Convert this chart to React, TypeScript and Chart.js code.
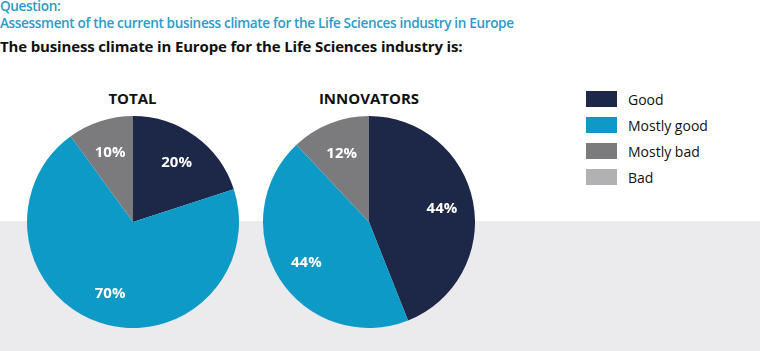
import React, { useEffect, useRef } from "react";
import { Chart, registerables } from "chart.js";

Chart.register(...registerables);

const categories = ["Good", "Mostly good", "Mostly bad", "Bad"];
const totalValues = [20, 70, 10, 0];
const innovatorValues = [44, 44, 12, 0];
const chartTitles = ["TOTAL", "INNOVATORS"];
const colors = ["#1d2748", "#0e9ac6", "#7b7b7d", "#b1b1b3"];

const questionLabel = "Question:";
const questionText = "Assessment of the current business climate for the Life Sciences industry in Europe";
const subtitle = "The business climate in Europe for the Life Sciences industry is:";

const FONT = "'Open Sans', 'Noto Sans', sans-serif";

const pctLabels = {
  id: "pctLabels",
  afterDatasetsDraw(chart: any) {
    const ctx = chart.ctx;
    const meta = chart.getDatasetMeta(0);
    const data = chart.data.datasets[0].data as number[];
    ctx.save();
    ctx.fillStyle = "#ffffff";
    ctx.font = `bold 15px ${FONT}`;
    ctx.textAlign = "center";
    ctx.textBaseline = "middle";
    meta.data.forEach((arc: any, i: number) => {
      const v = data[i];
      if (!v) return;
      const mid = (arc.startAngle + arc.endAngle) / 2;
      const r = arc.outerRadius * 0.7;
      ctx.fillText(`${v}%`, arc.x + Math.cos(mid) * r, arc.y + Math.sin(mid) * r + 1);
    });
    ctx.restore();
  },
};

function PieCanvas({ values, left }: { values: number[]; left: number }) {
  const ref = useRef<HTMLCanvasElement | null>(null);
  useEffect(() => {
    if (!ref.current) return;
    const chart = new Chart(ref.current, {
      type: "pie",
      data: {
        labels: categories,
        datasets: [
          {
            data: values,
            backgroundColor: colors,
            borderWidth: 0,
          },
        ],
      },
      options: {
        responsive: false,
        animation: false,
        layout: { padding: 0 },
        plugins: {
          legend: { display: false },
          tooltip: { enabled: false },
          title: { display: false },
        },
      },
      plugins: [pctLabels],
    });
    return () => chart.destroy();
  }, [values]);
  return (
    <canvas
      ref={ref}
      width={212}
      height={212}
      style={{ position: "absolute", left, top: 116, width: 212, height: 212 }}
    />
  );
}

export default function App() {
  useEffect(() => {
    document.body.style.margin = "0";
  }, []);
  const centers = [132.5, 369];
  return (
    <div
      style={{
        position: "fixed",
        left: 0,
        top: 0,
        width: 760,
        height: 351,
        background: "#ffffff",
        overflow: "hidden",
        fontFamily: FONT,
      }}
    >
      <div
        style={{
          position: "absolute",
          left: 0,
          top: 221,
          width: 760,
          height: 130,
          background: "#ebeaec",
        }}
      />
      <div
        style={{
          position: "absolute",
          left: 0,
          top: -3,
          color: "#2a9cc8",
          fontSize: 15,
          fontWeight: 600,
          lineHeight: "16.5px",
          letterSpacing: "-0.4px",
          whiteSpace: "nowrap",
          transform: "scaleX(0.905)",
          transformOrigin: "0 0",
        }}
      >
        <div>{questionLabel}</div>
        <div>{questionText}</div>
      </div>
      <div
        style={{
          position: "absolute",
          left: 0,
          top: 37,
          color: "#111111",
          fontSize: 15,
          fontWeight: 700,
          lineHeight: "19px",
          letterSpacing: "-0.15px",
          whiteSpace: "nowrap",
        }}
      >
        {subtitle}
      </div>
      {chartTitles.map((t, i) => (
        <div
          key={t}
          style={{
            position: "absolute",
            left: centers[i] - 80,
            width: 160,
            top: 89,
            textAlign: "center",
            fontSize: 15,
            fontWeight: 700,
            lineHeight: "19px",
            color: "#111111",
          }}
        >
          {t}
        </div>
      ))}
      <PieCanvas values={totalValues} left={26.5} />
      <PieCanvas values={innovatorValues} left={263} />
      {categories.map((c, i) => (
        <div key={c}>
          <div
            style={{
              position: "absolute",
              left: 586,
              top: 91 + i * 26,
              width: 31,
              height: 16,
              background: colors[i],
            }}
          />
          <div
            style={{
              position: "absolute",
              left: 628,
              top: 91 + i * 26,
              fontSize: 14,
              lineHeight: "18px",
              color: "#111111",
              whiteSpace: "nowrap",
            }}
          >
            {c}
          </div>
        </div>
      ))}
    </div>
  );
}
